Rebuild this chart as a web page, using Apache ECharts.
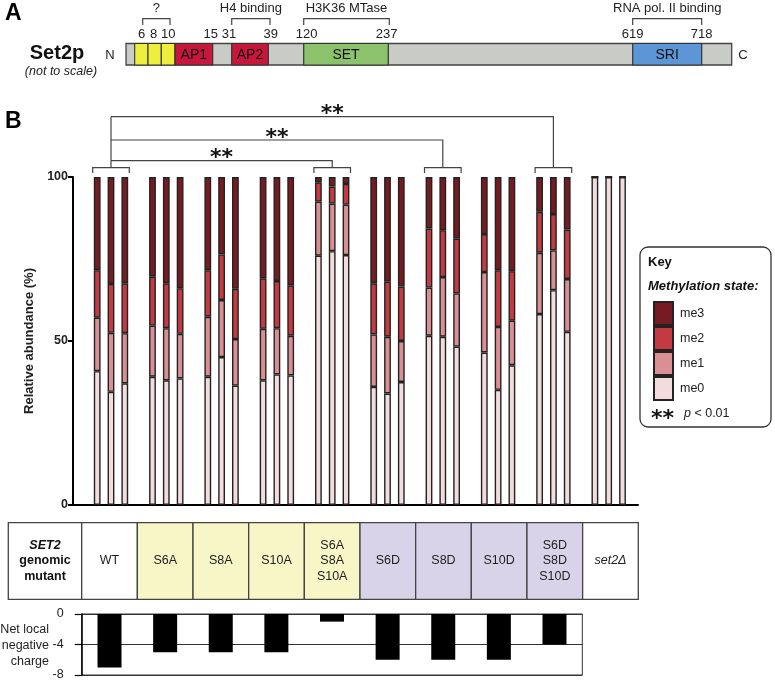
<!DOCTYPE html>
<html><head><meta charset="utf-8">
<script src="https://cdn.jsdelivr.net/npm/echarts@6/dist/echarts.min.js"></script>
<style>html,body{margin:0;padding:0;background:#fff}#c{width:775px;height:681px}</style>
</head><body><div id="c"></div>
<script>
const FONT = '"Liberation Sans", Arial, Helvetica, sans-serif';
const STARFONT = '"DejaVu Sans", sans-serif';

// ---- data ----
const groups = ['WT', 'S6A', 'S8A', 'S10A', 'S6A\nS8A\nS10A', 'S6D', 'S8D', 'S10D', 'S6D\nS8D\nS10D', 'set2Δ'];
const groupType = ['wt', 'A', 'A', 'A', 'A', 'D', 'D', 'D', 'D', 'wt'];
const states = ['me0', 'me1', 'me2', 'me3'];
// relative abundance (%) per group, three replicates each
const me0 = [[40.8, 34.5, 37.1], [39.1, 38.0, 38.6], [39.1, 45.1, 36.4], [38.0, 39.8, 39.5], [76.0, 77.4, 76.2],
             [36.0, 34.0, 37.5], [51.6, 51.3, 48.3], [46.5, 35.1, 42.6], [58.2, 65.5, 52.8], [100, 100, 100]];
const me1 = [[16.3, 18.0, 15.3], [15.6, 15.9, 13.6], [18.3, 17.4, 14.2], [15.7, 14.1, 12.1], [16.5, 14.5, 15.4],
             [16.0, 17.3, 12.5], [14.7, 18.2, 16.2], [24.5, 19.2, 13.6], [18.7, 12.1, 16.1], [0, 0, 0]];
const me2 = [[14.5, 14.9, 15.2], [14.9, 13.7, 13.9], [14.2, 13.9, 15.3], [15.4, 14.4, 15.4], [5.9, 5.2, 6.3],
             [15.6, 16.8, 16.6], [18.0, 14.3, 16.7], [11.6, 17.3, 15.1], [12.5, 11.1, 15.1], [0, 0, 0]];
const me3 = [[28.4, 32.6, 32.4], [30.4, 32.4, 33.9], [28.4, 23.6, 34.1], [30.9, 31.7, 33.0], [1.6, 2.9, 2.1],
             [32.4, 31.9, 33.4], [15.7, 16.2, 18.8], [17.4, 28.4, 28.7], [10.6, 11.3, 16.0], [0, 0, 0]];
const yTicks = [0, 50, 100];
const chargeGroups = groups.slice(0, 9);
const charge = [-7, -5, -5, -5, -1, -6, -6, -6, -4];
const chargeTicks = [0, -4, -8];
// significance comparisons: [from group, to group]
const comparisons = [[0, 4], [0, 6], [0, 8]];
// panel A
const residueLabels = ['6', '8', '10', '15', '31', '39', '120', '237', '619', '718'];
const domainNames = ['AP1', 'AP2', 'SET', 'SRI'];
const regionNames = ['?', 'H4 binding', 'H3K36 MTase', 'RNA pol. II binding'];

// ---- styles ----
const stateColors = { me0: '#f2dcdd', me1: '#d98f93', me2: '#c43a42', me3: '#761b22' };
const INK = '#222';

const stateData = { me0, me1, me2, me3 };
const series = [];
for (let r = 0; r < 3; r++) {
  states.forEach(s => {
    series.push({
      name: s, type: 'bar', stack: 'rep' + r, xAxisIndex: 0, yAxisIndex: 0,
      data: stateData[s].map(g => g[r]),
      barWidth: 6.8, barGap: '103%',
      itemStyle: { color: stateColors[s], borderColor: '#222', borderWidth: 1.4 },
      emphasis: { disabled: true }, silent: true
    });
  });
}
series.push({
  type: 'bar', xAxisIndex: 2, yAxisIndex: 2, data: charge, barWidth: 24,
  itemStyle: { color: '#000' }, silent: true
});

const chart = echarts.init(document.getElementById('c'), null, { renderer: 'canvas' });
chart.setOption({
  animation: false,
  backgroundColor: '#fff',
  textStyle: { fontFamily: FONT },
  grid: [
    { left: 83.35, top: 177, width: 553, height: 328, outerBoundsMode: 'none' },
    { left: 73, top: 177, width: 565, height: 328, outerBoundsMode: 'none' },
    { left: 81.7, top: 614, width: 500.6, height: 61, show: true, borderColor: '#333', borderWidth: 1, outerBoundsMode: 'none' }
  ],
  xAxis: [
    { type: 'category', gridIndex: 0, data: groups, show: false },
    { type: 'value', gridIndex: 1, min: 0, max: 1, axisLine: { show: true, onZero: false, lineStyle: { color: '#000', width: 2 } },
      axisTick: { show: false }, axisLabel: { show: false }, splitLine: { show: false } },
    { type: 'category', gridIndex: 2, data: chargeGroups, show: false }
  ],
  yAxis: [
    { type: 'value', gridIndex: 0, min: 0, max: 100, show: false },
    { type: 'value', gridIndex: 1, min: 0, max: 100, interval: 50,
      axisLine: { show: true, lineStyle: { color: '#000', width: 2 } },
      axisTick: { show: true, length: 5, lineStyle: { color: '#000', width: 2 } },
      axisLabel: { fontSize: 12.5, fontWeight: 'bold', color: INK, margin: 5, fontFamily: FONT,
                   formatter: v => yTicks.includes(v) ? String(v) : '' },
      splitLine: { show: false },
      name: 'Relative abundance (%)', nameLocation: 'middle', nameGap: 30,
      nameTextStyle: { fontSize: 13, fontWeight: 'bold', color: INK, fontFamily: FONT } },
    { type: 'value', gridIndex: 2, min: -8, max: 0, interval: 4,
      axisLine: { show: true, lineStyle: { color: '#000', width: 1.5 } },
      axisTick: { show: true, length: 7, lineStyle: { color: '#000', width: 1.2 } },
      axisLabel: { fontSize: 12.5, color: INK, margin: 18, fontFamily: FONT,
                   formatter: v => chargeTicks.includes(v) ? String(v) : '' },
      splitLine: { show: true, lineStyle: { color: '#333', width: 1 } } }
  ],
  legend: {
    data: ['me3', 'me2', 'me1', 'me0'], orient: 'vertical', left: 653, top: 301, padding: 0,
    itemWidth: 19, itemHeight: 23, itemGap: 0, icon: 'rect', selectedMode: false, z: 10,
    textStyle: { fontSize: 12.5, color: INK, fontFamily: FONT, padding: [0, 0, 0, 2] }
  },
  series
});

// ---- annotations ----
const G = [];
function T(x, y, text, o) {
  o = o || {};
  G.push({ type: 'text', z: 20, silent: true, style: Object.assign({
    x, y, text, fill: INK, fontSize: 13, fontFamily: FONT, fontWeight: 'normal', fontStyle: 'normal',
    align: 'center', textAlign: 'center', verticalAlign: 'middle', textVerticalAlign: 'middle'
  }, o) });
}
function L(pts, w, c) {
  G.push({ type: 'polyline', z: 20, silent: true, shape: { points: pts }, style: { stroke: c || '#333', lineWidth: w || 1.3, fill: null } });
}
function R(x, y, w, h, fill, stroke, lw, r, z) {
  G.push({ type: 'rect', z: z == null ? 5 : z, silent: true, shape: { x, y, width: w, height: h, r: r || 0 },
           style: { fill, stroke: stroke || '#333', lineWidth: lw == null ? 1.3 : lw } });
}

// Panel letters
T(5, 14, 'A', { align: 'left', textAlign: 'left', fontSize: 23, fontWeight: 'bold', fill: '#000' });
T(5, 122, 'B', { align: 'left', textAlign: 'left', fontSize: 23, fontWeight: 'bold', fill: '#000' });

// Panel A: protein diagram
T(57, 53, 'Set2p', { fontSize: 20, fontWeight: 'bold', fill: '#111' });
T(61, 72, '(not to scale)', { fontSize: 12.5, fontStyle: 'italic' });
T(110, 55, 'N', { fontSize: 13 });
T(743, 55, 'C', { fontSize: 13 });
const barTop = 43.5, barH = 21.5;
R(126, barTop, 605.7, barH, '#c9ccc6', '#444', 1.3);
const yellowEdges = [134.7, 148, 161.3, 175];
for (let i = 0; i < 3; i++) R(yellowEdges[i], barTop, yellowEdges[i + 1] - yellowEdges[i], barH, '#eeee3c', '#333', 1.1);
const domainEdges = [[175, 212.7, '#c8173d'], [231.7, 268.3, '#c8173d'], [303.7, 388.3, '#8dc26c'], [632.7, 701.7, '#5c96d6']];
domainEdges.forEach((d, i) => {
  R(d[0], barTop, d[1] - d[0], barH, d[2], '#333', 1.2);
  T((d[0] + d[1]) / 2, barTop + barH / 2 + 0.5, domainNames[i], { fontSize: 14, fill: '#111' });
});
const residueX = [141.7, 153.7, 168.3, 210.7, 229, 270.7, 306.7, 386.7, 632.7, 701.7];
residueLabels.forEach((t, i) => T(residueX[i], 34, t, { fontSize: 13 }));
const regionSpans = [[142.7, 170], [231.7, 270], [303.7, 389.3], [632.7, 701.7]];
regionSpans.forEach((s, i) => {
  L([[s[0], 25], [s[0], 18.7], [s[1], 18.7], [s[1], 25]], 1.2, '#444');
  T((s[0] + s[1]) / 2, 8.5, regionNames[i], { fontSize: 13 });
});

// Key box
R(640, 247, 131, 180, '#fff', '#333', 1.3, 8, 1);
T(648, 262, 'Key', { align: 'left', textAlign: 'left', fontWeight: 'bold', fontSize: 13, fill: '#111' });
T(648, 286, 'Methylation state:', { align: 'left', textAlign: 'left', fontWeight: 'bold', fontStyle: 'italic', fontSize: 13, fill: '#111' });
T(651, 419, '**', { align: 'left', textAlign: 'left', fontWeight: 'bold', fontSize: 22, fontFamily: STARFONT, fill: '#111' });
T(684, 414, '{i|p} < 0.01', { align: 'left', textAlign: 'left', fontSize: 12.5,
  rich: { i: { fontStyle: 'italic', fontSize: 12.5, fontFamily: FONT, fill: INK } } });

// Table
const tTop = 522.7, tH = 76.6, colW = 55.66, col0 = 81.7;
R(8.3, tTop, col0 - 8.3, tH, '#fff', '#444', 1.3);
T(45, 561, 'SET2\n{b|genomic}\n{b|mutant}', { fontSize: 12.5, fontWeight: 'bold', fontStyle: 'italic', lineHeight: 15.3, fill: '#111',
  rich: { b: { fontWeight: 'bold', fontStyle: 'normal', fontSize: 12.5, lineHeight: 15.3, fontFamily: FONT, fill: '#111' } } });
const cellFill = { wt: '#ffffff', A: '#f6f6c7', D: '#d9d3e9' };
groups.forEach((g, i) => {
  const x = col0 + i * colW;
  R(x, tTop, colW, tH, cellFill[groupType[i]], '#444', 1.3);
  const italic = g === 'set2Δ';
  T(x + colW / 2, tTop + tH / 2, g, { fontSize: 12.5, lineHeight: 15.5, fontStyle: italic ? 'italic' : 'normal' });
});

// Bottom chart label
T(49, 645.5, 'Net local\nnegative\ncharge', { align: 'right', textAlign: 'right', fontSize: 12.5, lineHeight: 15.7 });

// Significance brackets
const cx = i => chart.convertToPixel({ xAxisIndex: 0 }, i);
const bY = 167.7, bTick = 173, half = 18.3;
const bracketed = [0, 4, 6, 8];
bracketed.forEach(i => { const c = cx(i); L([[c - half, bTick], [c - half, bY], [c + half, bY], [c + half, bTick]], 1.2, '#444'); });
const levels = [160.7, 140, 116.7];
const c0 = cx(0);
L([[c0, bY], [c0, levels[2]]], 1.2, '#444');
comparisons.forEach((cmp, k) => {
  const a = cx(cmp[0]), b = cx(cmp[1]);
  L([[a, levels[k]], [b, levels[k]], [b, bY]], 1.2, '#444');
  T((a + b) / 2, levels[k] - 8.5 + 6.5, '**', { fontWeight: 'bold', fontSize: 22, fontFamily: STARFONT, fill: '#111' });
});

chart.setOption({ graphic: { elements: G } });
</script>
</body></html>
